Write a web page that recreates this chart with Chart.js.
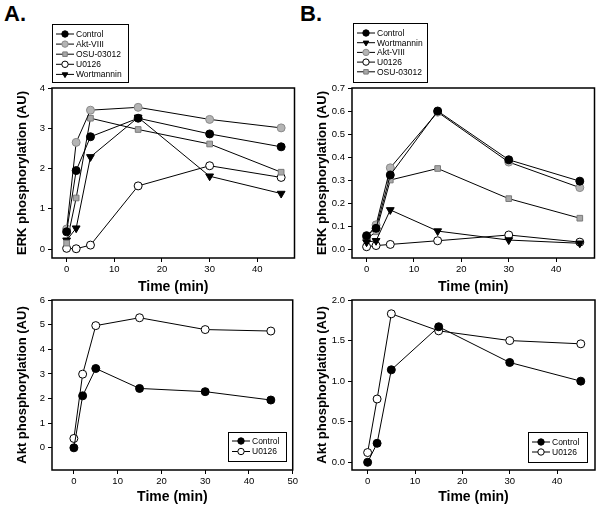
<!DOCTYPE html>
<html>
<head>
<meta charset="utf-8">
<script src="https://cdn.jsdelivr.net/npm/chart.js@4/dist/chart.umd.min.js"></script>
<style>
  body { margin: 0; background: #fff; width: 600px; height: 508px; position: relative; overflow: hidden; }
  .panel { position: absolute; }
  .tag { position: absolute; font: bold 22px "Liberation Sans", Arial, sans-serif; color: #000; }
</style>
</head>
<body>
<div class="tag" style="left:4px;top:1px">A.</div>
<div class="tag" style="left:300px;top:1px">B.</div>
<div class="panel" style="left:0;top:0;width:300px;height:300px"><canvas id="erkA"></canvas></div>
<div class="panel" style="left:300px;top:0;width:300px;height:300px"><canvas id="erkB"></canvas></div>
<div class="panel" style="left:0;top:290px;width:300px;height:218px"><canvas id="aktA"></canvas></div>
<div class="panel" style="left:300px;top:290px;width:300px;height:218px"><canvas id="aktB"></canvas></div>
<script>
const timeMin = [0, 2, 5, 15, 30, 45];

// panel A, ERK
const erkA_control = [0.43, 1.95, 2.79, 3.25, 2.86, 2.54];
const erkA_aktviii = [0.50, 2.65, 3.45, 3.52, 3.22, 3.01];
const erkA_osu = [0.15, 1.27, 3.25, 2.97, 2.61, 1.91];
const erkA_u0126 = [0.02, 0.01, 0.10, 1.57, 2.07, 1.78];
const erkA_wort = [0.22, 0.52, 2.29, 3.27, 1.81, 1.38];

// panel B, ERK
const erkB_control = [0.058, 0.09, 0.322, 0.60, 0.388, 0.295];
const erkB_wort = [0.03, 0.036, 0.17, 0.078, 0.039, 0.025];
const erkB_aktviii = [0.05, 0.105, 0.353, 0.595, 0.378, 0.267];
const erkB_u0126 = [0.01, 0.015, 0.02, 0.036, 0.061, 0.03];
const erkB_osu = [0.044, 0.075, 0.30, 0.35, 0.219, 0.134];

// Akt
const aktA_control = [0, 2.11, 3.22, 2.41, 2.28, 1.94];
const aktA_u0126 = [0.38, 2.99, 4.96, 5.28, 4.80, 4.74];
const aktB_control = [0, 0.234, 1.14, 1.67, 1.23, 1.0];
const aktB_u0126 = [0.12, 0.78, 1.83, 1.62, 1.50, 1.46];

// ticks
const erkATicks = [0, 1, 2, 3, 4];
const erkBTicks = [0, 0.1, 0.2, 0.3, 0.4, 0.5, 0.6, 0.7];
const aktATicks = [0, 1, 2, 3, 4, 5, 6];
const aktBTicks = [0, 0.5, 1.0, 1.5, 2.0];
const timeTicks = [0, 10, 20, 30, 40];
const timeTicksLong = [0, 10, 20, 30, 40, 50];

const FONT = '"Liberation Sans", Arial, sans-serif';

const markers = {
  'Control':    { pointStyle: 'circle', fill: '#000', stroke: '#000', rotation: 0 },
  'Akt-VIII':   { pointStyle: 'circle', fill: '#b4b4b4', stroke: '#8a8a8a', rotation: 0 },
  'OSU-03012':  { pointStyle: 'rect', fill: '#a8a8a8', stroke: '#7a7a7a', rotation: 0 },
  'U0126':      { pointStyle: 'circle', fill: '#fff', stroke: '#000', rotation: 0 },
  'Wortmannin': { pointStyle: 'triangle', fill: '#000', stroke: '#000', rotation: 180 }
};

function series(label, values) {
  const m = markers[label];
  return {
    label,
    data: timeMin.map((t, i) => ({ x: t, y: values[i] })),
    showLine: true,
    borderColor: '#000',
    borderWidth: 1,
    pointStyle: m.pointStyle,
    pointRotation: m.rotation,
    pointRadius: m.pointStyle === 'triangle' ? 4.5 : 4,
    pointBackgroundColor: m.fill,
    pointBorderColor: m.stroke,
    pointBorderWidth: 1,
    pointHoverRadius: 4
  };
}

// frame around the plot + boxed legend
const boxPlugin = {
  id: 'boxLegend',
  afterDraw(chart, args, opts) {
    const ctx = chart.ctx;
    const a = chart.chartArea;
    ctx.save();
    ctx.strokeStyle = '#000';
    ctx.lineWidth = 1.5;
    ctx.strokeRect(a.left, a.top, a.right - a.left, a.bottom - a.top);

    ctx.fillStyle = '#fff';
    ctx.fillRect(opts.x, opts.y, opts.w, opts.h);
    ctx.lineWidth = 1;
    ctx.strokeRect(opts.x + 0.5, opts.y + 0.5, opts.w, opts.h);
    ctx.font = opts.fontSize + 'px ' + FONT;
    ctx.textBaseline = 'middle';
    chart.data.datasets.forEach((ds, i) => {
      const m = markers[ds.label];
      const y = opts.y0 + i * opts.rowH;
      const x = opts.x;
      ctx.strokeStyle = '#000';
      ctx.lineWidth = 1;
      ctx.beginPath();
      ctx.moveTo(x + 4, y);
      ctx.lineTo(x + 22, y);
      ctx.stroke();
      ctx.fillStyle = m.fill;
      ctx.strokeStyle = m.stroke;
      Chart.helpers.drawPoint(ctx, { pointStyle: m.pointStyle, rotation: m.rotation, radius: 3.2, borderWidth: 1 }, x + 13, y);
      ctx.fillStyle = '#000';
      ctx.fillText(ds.label, x + 24, y + 0.5);
    });
    ctx.restore();
  }
};

function makeChart(id, datasets, o) {
  new Chart(document.getElementById(id), {
    type: 'scatter',
    data: { datasets },
    plugins: [boxPlugin],
    options: {
      responsive: true,
      maintainAspectRatio: false,
      animation: false,
      events: [],
      layout: { padding: { top: o.padTop, right: o.padRight, left: 0, bottom: 0 } },
      plugins: {
        legend: { display: false },
        tooltip: { enabled: false },
        boxLegend: o.legend
      },
      scales: {
        x: {
          type: 'linear',
          min: o.xMin,
          max: o.xMax,
          afterFit: s => { s.height = o.xHeight; },
          afterBuildTicks: s => { s.ticks = o.xTicks.map(v => ({ value: v })); },
          grid: { display: true, drawOnChartArea: false, drawTicks: true, tickLength: 4, color: '#000' },
          border: { display: false },
          ticks: { color: '#000', padding: 2, font: { family: FONT, size: 9.5 } },
          title: {
            display: true, text: 'Time (min)', color: '#000',
            font: { family: FONT, size: 14, weight: 'bold' },
            padding: { top: 0, bottom: o.xTitlePad }
          }
        },
        y: {
          type: 'linear',
          min: o.yMin,
          max: o.yMax,
          afterFit: s => { s.width = 52; },
          afterBuildTicks: s => { s.ticks = o.yTicks.map(v => ({ value: v })); },
          grid: { display: true, drawOnChartArea: false, drawTicks: true, tickLength: 4, color: '#000' },
          border: { display: false },
          ticks: {
            color: '#000', padding: 3, font: { family: FONT, size: 9.5 },
            callback: v => o.yDec ? v.toFixed(1) : String(v)
          },
          title: {
            display: true, text: o.yTitle, color: '#000',
            font: { family: FONT, size: 13, weight: 'bold' },
            padding: { top: 15, bottom: 0 }
          }
        }
      }
    }
  });
}

makeChart('erkA', [
  series('Control', erkA_control),
  series('Akt-VIII', erkA_aktviii),
  series('OSU-03012', erkA_osu),
  series('U0126', erkA_u0126),
  series('Wortmannin', erkA_wort)
], {
  padTop: 88, padRight: 5, xHeight: 42, xTitlePad: 4,
  xMin: -3.07, xMax: 47.8, xTicks: timeTicks,
  yMin: -0.22, yMax: 4, yTicks: erkATicks, yDec: false,
  yTitle: 'ERK phosphorylation (AU)',
  legend: { x: 52, y: 24, w: 76, h: 58, y0: 34, rowH: 10.1, fontSize: 8.5 }
});

makeChart('erkB', [
  series('Control', erkB_control),
  series('Wortmannin', erkB_wort),
  series('Akt-VIII', erkB_aktviii),
  series('U0126', erkB_u0126),
  series('OSU-03012', erkB_osu)
], {
  padTop: 88, padRight: 4, xHeight: 42, xTitlePad: 4,
  xMin: -3.08, xMax: 48.1, xTicks: timeTicks,
  yMin: -0.039, yMax: 0.7, yTicks: erkBTicks, yDec: true,
  yTitle: 'ERK phosphorylation (AU)',
  legend: { x: 53, y: 23, w: 74, h: 59, y0: 33, rowH: 9.7, fontSize: 8.5 }
});

makeChart('aktA', [
  series('Control', aktA_control),
  series('U0126', aktA_u0126)
], {
  padTop: 10, padRight: 5, xHeight: 38, xTitlePad: 2,
  xMin: -5, xMax: 50, xTicks: timeTicksLong,
  yMin: -0.9, yMax: 6, yTicks: aktATicks, yDec: false,
  yTitle: 'Akt phosphorylation (AU)',
  legend: { x: 228, y: 142, w: 58, h: 29, y0: 151, rowH: 10.5, fontSize: 8.5 }
});

makeChart('aktB', [
  series('Control', aktB_control),
  series('U0126', aktB_u0126)
], {
  padTop: 10, padRight: 4, xHeight: 38, xTitlePad: 2,
  xMin: -3.3, xMax: 48, xTicks: timeTicks,
  yMin: -0.095, yMax: 2.0, yTicks: aktBTicks, yDec: true,
  yTitle: 'Akt phosphorylation (AU)',
  legend: { x: 228, y: 142, w: 59, h: 30, y0: 152, rowH: 10, fontSize: 8.5 }
});
</script>
</body>
</html>
